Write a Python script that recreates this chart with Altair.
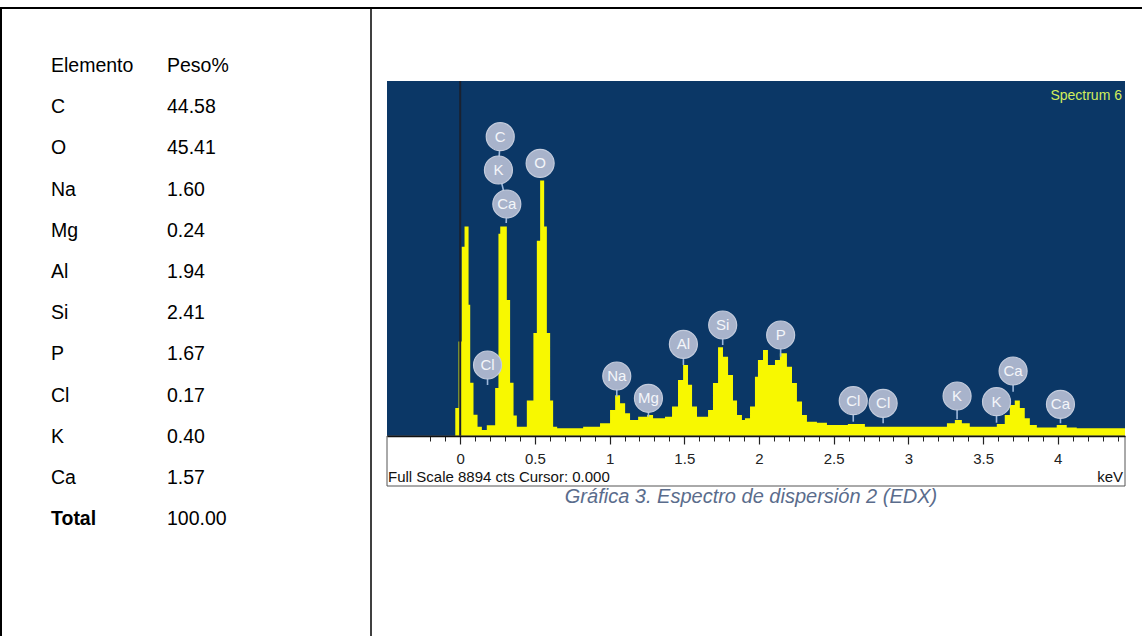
import altair as alt
import pandas as pd

# ---------------- composition table (weight %) ----------------
HEADER = ["Elemento", "Peso%"]
ELEMENTS = ["C", "O", "Na", "Mg", "Al", "Si", "P", "Cl", "K", "Ca", "Total"]
WEIGHT_PCT = ["44.58", "45.41", "1.60", "0.24", "1.94", "2.41", "1.67",
              "0.17", "0.40", "1.57", "100.00"]

# ---------------- EDX spectrum ----------------
FULL_SCALE = 8894          # counts at the top of the panel
KEV_MIN, KEV_MAX = -0.49, 4.45

# channel start energy (keV) and counts, drawn as a stepped area
ENERGY_KEV = [-0.49, -0.033, -0.011, 0.010, 0.029, 0.056, 0.067, 0.089, 0.116, 0.145,
              0.178, 0.234, 0.256, 0.268, 0.312, 0.334, 0.357, 0.379, 0.446, 0.490,
              0.513, 0.535, 0.562, 0.580, 0.602, 0.622, 0.649, 0.823, 0.936, 1.003,
              1.037, 1.070, 1.104, 1.137, 1.191, 1.251, 1.291, 1.371, 1.418, 1.458,
              1.492, 1.525, 1.552, 1.585, 1.659, 1.692, 1.726, 1.759, 1.793, 1.826,
              1.853, 1.886, 1.906, 1.940, 1.973, 1.993, 2.027, 2.060, 2.107, 2.140,
              2.187, 2.221, 2.254, 2.288, 2.321, 2.388, 2.455, 2.595, 2.709, 3.258,
              3.311, 3.358, 3.411, 3.592, 3.645, 3.679, 3.712, 3.746, 3.779, 3.813,
              3.860, 3.993, 4.060, 4.127, 4.450]
COUNTS = [0, 703, 2366, 4740, 5247, 3291, 1334, 534, 231, 151,
          267, 1201, 5070, 5250, 3406, 1334, 516, 231, 889, 2579,
          4892, 6404, 5247, 2579, 889, 231, 196, 231, 320, 649,
          1023, 818, 569, 400, 480, 525, 445, 480, 738, 1405,
          1779, 1281, 738, 480, 649, 1325, 2224, 1983, 1530, 889,
          525, 400, 445, 738, 1485, 1903, 2152, 1779, 1903, 2072,
          1734, 1325, 863, 525, 356, 329, 276, 302, 231, 320,
          400, 320, 231, 302, 525, 774, 889, 703, 445, 276,
          213, 276, 213, 196, 196]

# peak identification markers: bubble position and where its stem ends
PEAK_NAMES = ["C", "K", "Ca", "O", "Cl", "Na", "Mg", "Al", "Si", "P",
              "Cl", "Cl", "K", "K", "Ca", "Ca"]
PEAK_KEV = [0.268, 0.256, 0.312, 0.535, 0.183, 1.048, 1.260, 1.494, 1.757, 2.145,
            2.631, 2.831, 3.326, 3.590, 3.701, 4.018]
PEAK_CTS = [7499, 6664, 5813, 6832, 1779, 1503, 945, 2297, 2781, 2530,
            884, 819, 1002, 859, 1629, 794]
STEM_END_KEV = [0.256, 0.312, 0.308, 0.535, 0.183, 1.048, 1.260, 1.494, 1.757, 2.145,
                2.631, 2.831, 3.326, 3.590, 3.701, 4.018]
STEM_END_CTS = [6664, 5813, 5337, 6464, 1278, 985, 484, 1779, 2280, 1987,
                358, 318, 418, 333, 1110, 318]

MAJOR_TICKS = [0, 0.5, 1, 1.5, 2, 2.5, 3, 3.5, 4]
MINOR_TICKS = [round(-0.2 + 0.1 * i, 1) for i in range(47)]

# ---------------- layout & style ----------------
W, H = 1142, 636
FONT = "Liberation Sans"
PANEL_LEFT, PANEL_RIGHT, PANEL_TOP, PANEL_BOTTOM = 387, 1125, 81, 436
STRIP_BOTTOM = 486
ROW0_Y, ROW_STEP = 66, 41.2
COL_NAME_X, COL_VALUE_X = 51, 167
BORDER_Y, DIVIDER_X = 8, 371

BLUE = "#0b3766"
YELLOW = "#f8f800"
BUBBLE = "#a8b3cb"
STEM = "#9db8dc"

kev_scale = alt.Scale(domain=[KEV_MIN, KEV_MAX], range=[PANEL_LEFT, PANEL_RIGHT],
                      nice=False, zero=False)
cts_scale = alt.Scale(domain=[0, FULL_SCALE], range=[PANEL_BOTTOM, PANEL_TOP],
                      nice=False, zero=False)


def kev(field, axis=None):
    return alt.X(field, type="quantitative", scale=kev_scale, axis=axis)


def cts(field):
    return alt.Y(field, type="quantitative", scale=cts_scale, axis=None)


# ---------------- table ----------------
table_df = pd.DataFrame({
    "row": list(range(len(ELEMENTS) + 1)),
    "name": [HEADER[0]] + ELEMENTS,
    "value": [HEADER[1]] + WEIGHT_PCT,
    "bold": [False] * len(ELEMENTS) + [True],
})
row_scale = alt.Scale(domain=[0, len(ELEMENTS)],
                      range=[ROW0_Y, ROW0_Y + ROW_STEP * len(ELEMENTS)],
                      nice=False, zero=False)
row_y = alt.Y("row:Q", scale=row_scale, axis=None)
text_style = dict(font=FONT, fontSize=19.5, color="#000000", align="left", baseline="middle")

names_plain = alt.Chart(table_df).transform_filter("!datum.bold").mark_text(**text_style).encode(
    x=alt.value(COL_NAME_X), y=row_y, text="name:N")
names_bold = alt.Chart(table_df).transform_filter("datum.bold").mark_text(
    fontWeight="bold", **text_style).encode(x=alt.value(COL_NAME_X), y=row_y, text="name:N")
values_txt = alt.Chart(table_df).mark_text(**text_style).encode(
    x=alt.value(COL_VALUE_X), y=row_y, text="value:N")

frame_df = pd.DataFrame({"k": [0]})
top_border = alt.Chart(frame_df).mark_rule(color="#000000", strokeWidth=2).encode(
    x=alt.value(0), x2=alt.value(W), y=alt.value(BORDER_Y))
left_border = alt.Chart(frame_df).mark_rule(color="#000000", strokeWidth=2).encode(
    x=alt.value(1), y=alt.value(BORDER_Y), y2=alt.value(H))
divider = alt.Chart(frame_df).mark_rule(color="#000000", strokeWidth=1.5).encode(
    x=alt.value(DIVIDER_X), y=alt.value(BORDER_Y), y2=alt.value(H))

# ---------------- spectrum ----------------
major_axis = alt.Axis(orient="bottom", offset=PANEL_BOTTOM - H, values=MAJOR_TICKS,
                      format="~g", tickSize=8, tickColor="#222222", tickWidth=1.2,
                      domainColor="#111111", domainWidth=1.5, labelFont=FONT,
                      labelFontSize=15, labelColor="#222222", labelPadding=7,
                      labelFlush=False, labelOverlap=False, grid=False, title=None, zindex=2)
minor_axis = alt.Axis(orient="bottom", offset=PANEL_BOTTOM - H, values=MINOR_TICKS,
                      labels=False, domain=False, tickSize=5, tickColor="#222222",
                      tickWidth=1, grid=False, title=None, zindex=2)

panel_df = pd.DataFrame({"x0": [KEV_MIN], "x1": [KEV_MAX], "y0": [0], "y1": [FULL_SCALE]})
panel = alt.Chart(panel_df).mark_rect(color=BLUE).encode(
    x=kev("x0", axis=minor_axis), x2="x1", y=cts("y0"), y2="y1")

spec_df = pd.DataFrame({"kev": ENERGY_KEV, "cts": COUNTS})
spectrum = alt.Chart(spec_df).mark_area(interpolate="step-after", color=YELLOW).encode(
    x=kev("kev", axis=major_axis), y=cts("cts"))

cursor_df = pd.DataFrame({"kev": [0.0], "y0": [0], "y1": [FULL_SCALE]})
cursor = alt.Chart(cursor_df).mark_rule(color="#1a2130", strokeWidth=2).encode(
    x=kev("kev"), y=cts("y0"), y2="y1")

peaks_df = pd.DataFrame({"name": PEAK_NAMES, "kev": PEAK_KEV, "cts": PEAK_CTS,
                         "kev_end": STEM_END_KEV, "cts_end": STEM_END_CTS})
stems = alt.Chart(peaks_df).mark_rule(color=STEM, strokeWidth=1.6).encode(
    x=kev("kev"), y=cts("cts"), x2="kev_end", y2="cts_end")
bubbles = alt.Chart(peaks_df).mark_circle(size=784, color=BUBBLE, opacity=1,
                                          stroke="#c3cbdc", strokeWidth=1.2).encode(
    x=kev("kev"), y=cts("cts"))
bubble_text = alt.Chart(peaks_df).mark_text(font=FONT, fontSize=15, color="#f4f6fa",
                                            baseline="middle", align="center").encode(
    x=kev("kev"), y=cts("cts"), text="name:N")

spectrum_title = alt.Chart(frame_df).mark_text(
    text="Spectrum 6", font=FONT, fontSize=14, color="#d2ee5c", align="right",
    baseline="middle").encode(x=alt.value(PANEL_RIGHT - 3), y=alt.value(96))

strip = alt.Chart(frame_df).mark_rect(fillOpacity=0, stroke="#555555", strokeWidth=1).encode(
    x=alt.value(PANEL_LEFT), x2=alt.value(PANEL_RIGHT),
    y=alt.value(PANEL_BOTTOM), y2=alt.value(STRIP_BOTTOM))

status_style = dict(font=FONT, fontSize=15, color="#111111", baseline="middle")
full_scale = alt.Chart(frame_df).mark_text(
    text=f"Full Scale {FULL_SCALE} cts Cursor: 0.000", align="left", **status_style).encode(
    x=alt.value(PANEL_LEFT + 1), y=alt.value(477))
kev_unit = alt.Chart(frame_df).mark_text(text="keV", align="right", **status_style).encode(
    x=alt.value(PANEL_RIGHT - 2), y=alt.value(477))

caption = alt.Chart(frame_df).mark_text(
    text="Gráfica 3. Espectro de dispersión 2 (EDX)", font=FONT, fontSize=20,
    fontStyle="italic", color="#5a6c8c", align="center", baseline="middle").encode(
    x=alt.value(751), y=alt.value(497))

chart = alt.layer(
    top_border, left_border, divider,
    names_plain, names_bold, values_txt,
    panel, spectrum, cursor, stems, bubbles, bubble_text, spectrum_title,
    strip, full_scale, kev_unit, caption,
).resolve_scale(x="independent", y="independent").properties(
    width=W, height=H, padding=0, autosize="none", background="white"
).configure_view(strokeWidth=0)

chart.save("out.html", embed_options={"renderer": "svg", "actions": False})
